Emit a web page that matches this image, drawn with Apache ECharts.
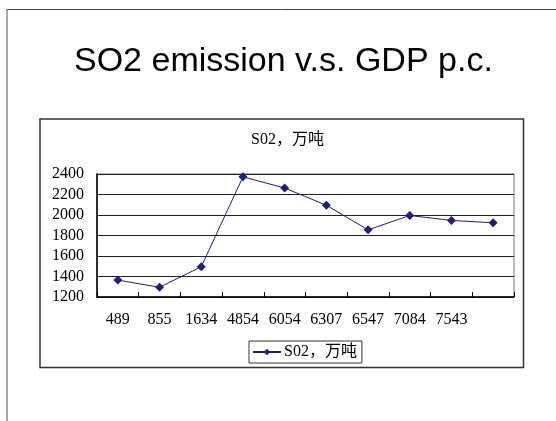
<!DOCTYPE html>
<html>
<head>
<meta charset="utf-8">
<script src="https://cdn.jsdelivr.net/npm/echarts@6/dist/echarts.min.js"></script>
<style>
  html, body { margin: 0; padding: 0; background: #fff; }
  #chart { width: 556px; height: 421px; }
</style>
</head>
<body>
<div id="chart"></div>
<script>
// GDP per capita categories (last point has no label in the source)
const categories = ["489", "855", "1634", "4854", "6054", "6307", "6547", "7084", "7543", ""];
// SO2 emission, 10k tons
const so2Values = [1365, 1295, 1495, 2372, 2263, 2095, 1855, 1995, 1947, 1924];
const yTicks = { min: 1200, max: 2400, step: 200 };

const seriesName = "S02，万吨";
const serif = "'Liberation Serif', 'Noto Sans CJK SC', serif";
const lineColor = "#1f1f78";

const chart = echarts.init(document.getElementById("chart"));

chart.setOption({
    animation: false,
    title: [
        {
            text: "SO2 emission v.s. GDP p.c.",
            left: 69,
            top: 40,
            textStyle: { fontFamily: "'Liberation Sans', Arial, sans-serif", fontSize: 34, fontWeight: "normal", color: "#000" },
        },
        {
            text: seriesName,
            left: 246,
            top: 127,
            textStyle: { fontFamily: serif, fontSize: 16, fontWeight: "normal", color: "#000" },
        },
    ],
    // slide frame and the chart box
    graphic: [
        { type: "line", shape: { x1: 7, y1: 9.5, x2: 556, y2: 9.5 }, style: { stroke: "#444", lineWidth: 1 } },
        { type: "line", shape: { x1: 7, y1: 9.5, x2: 7, y2: 421 }, style: { stroke: "#888", lineWidth: 1.5 } },
        { type: "rect", shape: { x: 40, y: 119, width: 483.5, height: 248.5 }, style: { fill: null, stroke: "#333", lineWidth: 1.5 } },
    ],
    legend: {
        left: 249,
        top: 341,
        data: [seriesName],
        itemWidth: 28,
        itemHeight: 8,
        itemGap: 4,
        padding: [3, 5, 3, 3],
        borderColor: "#333",
        borderWidth: 1,
        textStyle: { fontFamily: serif, fontSize: 16, color: "#000", padding: [0, 0, 0, -2] },
    },
    grid: {
        left: 97,
        right: 42,
        top: 174,
        bottom: 124,
        show: true,
        borderColor: "#777",
        borderWidth: 1,
    },
    xAxis: {
        type: "category",
        data: categories,
        boundaryGap: true,
        axisLine: { lineStyle: { color: "#000", width: 1.5 } },
        axisTick: { show: true, inside: true, length: 5, lineStyle: { color: "#000" } },
        axisLabel: { margin: 15, fontFamily: serif, fontSize: 16, color: "#000", interval: 0 },
        splitLine: { show: false },
    },
    yAxis: {
        type: "value",
        min: yTicks.min,
        max: yTicks.max,
        interval: yTicks.step,
        axisLine: { show: true, lineStyle: { color: "#000", width: 1.5 } },
        axisTick: { show: false },
        axisLabel: { margin: 13, fontFamily: serif, fontSize: 16, color: "#000", formatter: (v) => String(v) },
        splitLine: { lineStyle: { color: "#222", width: 1 } },
    },
    series: [
        {
            name: seriesName,
            type: "line",
            data: so2Values,
            symbol: "diamond",
            symbolSize: 9,
            lineStyle: { color: lineColor, width: 1 },
            itemStyle: { color: lineColor },
        },
    ],
});
</script>
</body>
</html>
